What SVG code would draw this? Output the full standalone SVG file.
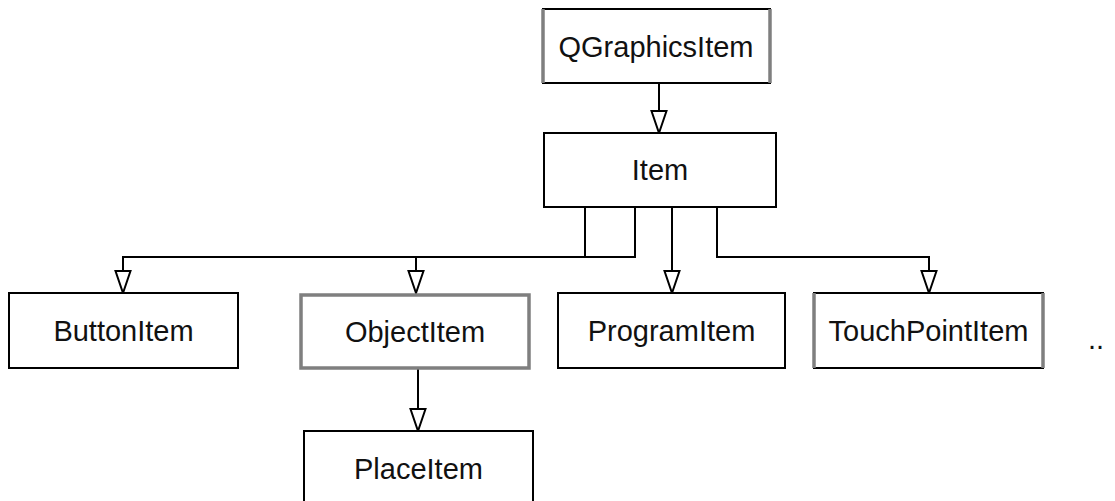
<svg xmlns="http://www.w3.org/2000/svg" width="1115" height="501" viewBox="0 0 1115 501">
<style>
.box{fill:#ffffff;stroke:#000000;stroke-width:2}
.gbox{fill:#ffffff;stroke:#7f7f7f;stroke-width:3.5}
.gside{stroke:#7f7f7f;stroke-width:3.5}
.lbl{font-family:"Liberation Sans",Arial,sans-serif;font-size:29px;fill:#111111;text-anchor:middle}
.edge{fill:none;stroke:#000000;stroke-width:2}
</style>
<defs>
<marker id="tri" viewBox="0 0 24 18" refX="23" refY="9" markerWidth="24" markerHeight="18" markerUnits="userSpaceOnUse" orient="auto">
<path d="M1,1.5 L23,9 L1,16.5 Z" fill="#ffffff" stroke="#000000" stroke-width="2"/>
</marker>
</defs>
<rect width="1115" height="501" fill="#ffffff"/>
<g id="connectors">
<path class="edge" d="M659,83 V133" marker-end="url(#tri)"/>
<path class="edge" d="M585,207 V257 H123 V293" marker-end="url(#tri)"/>
<path class="edge" d="M635,207 V257 H416 V293" marker-end="url(#tri)"/>
<path class="edge" d="M672,207 V293" marker-end="url(#tri)"/>
<path class="edge" d="M717,207 V257 H929 V293" marker-end="url(#tri)"/>
<path class="edge" d="M418,369 V431" marker-end="url(#tri)"/>
</g>
<g id="QGraphicsItem">
<rect class="box" x="543" y="9" width="227" height="74"/>
<line class="gside" x1="543" y1="9" x2="543" y2="83"/>
<line class="gside" x1="770" y1="9" x2="770" y2="83"/>
<text class="lbl" x="656" y="57">QGraphicsItem</text>
</g>
<g id="Item">
<rect class="box" x="544" y="133" width="232" height="74"/>
<text class="lbl" x="660" y="180">Item</text>
</g>
<g id="ButtonItem">
<rect class="box" x="9" y="293" width="229" height="75"/>
<text class="lbl" x="123.5" y="341">ButtonItem</text>
</g>
<g id="ObjectItem">
<rect class="gbox" x="301" y="295" width="228" height="73"/>
<text class="lbl" x="415" y="342">ObjectItem</text>
</g>
<g id="ProgramItem">
<rect class="box" x="558" y="293" width="227" height="75"/>
<text class="lbl" x="671.5" y="341">ProgramItem</text>
</g>
<g id="TouchPointItem">
<rect class="box" x="814" y="293" width="229" height="75"/>
<line class="gside" x1="814" y1="293" x2="814" y2="368"/>
<line class="gside" x1="1043" y1="293" x2="1043" y2="368"/>
<text class="lbl" x="928.5" y="341">TouchPointItem</text>
</g>
<g id="PlaceItem">
<rect class="box" x="304" y="431" width="229" height="75"/>
<text class="lbl" x="418.5" y="479">PlaceItem</text>
</g>
<g id="more">
<text class="lbl" x="1096" y="349">..</text>
</g>
</svg>
